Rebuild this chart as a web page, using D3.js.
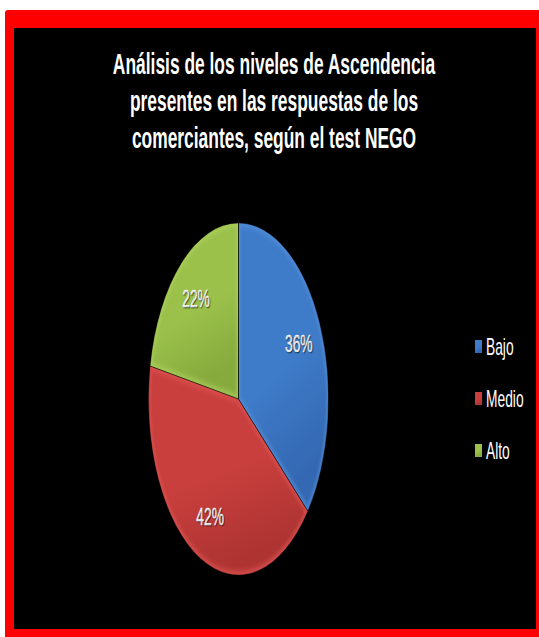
<!DOCTYPE html>
<html>
<head>
<meta charset="utf-8">
<script src="https://cdn.jsdelivr.net/npm/d3@7/dist/d3.min.js"></script>
<style>
  html, body { margin: 0; padding: 0; background: #ffffff; }
  svg { display: block; }
</style>
</head>
<body>
<svg id="chart" width="539" height="637"></svg>
<script>
// Response levels and their shares (percent)
const categories = ["Bajo", "Medio", "Alto"];
const percents = [36, 42, 22];
const titleLines = [
  "Análisis de los niveles de Ascendencia",
  "presentes en las respuestas de los",
  "comerciantes, según el test NEGO"
];
const sliceColors = [
  { light: "#5590da", base: "#3e7bc8", dark: "#3468b2" },
  { light: "#e05654", base: "#c83f3d", dark: "#ae3432" },
  { light: "#acd05e", base: "#9bc14b", dark: "#86aa3c" }
];

const svg = d3.select("#chart");
const W = 539, H = 637;

// frame: red border around a black plot area
svg.append("rect").attr("x", 5).attr("y", 10).attr("width", W).attr("height", H)
  .attr("rx", 3).attr("fill", "#ff0000");
svg.append("rect").attr("x", 14).attr("y", 28).attr("width", 522).attr("height", 601)
  .attr("fill", "#000000");

const defs = svg.append("defs");
const textSquash = 0.6;

// title
const title = svg.append("g").attr("font-family", "'Liberation Sans', Arial, sans-serif")
  .attr("font-weight", "bold").attr("font-size", 29).attr("fill", "#ffffff");
titleLines.forEach((line, i) => {
  title.append("text")
    .attr("transform", `translate(274, ${74 + i * 37}) scale(${textSquash},1)`)
    .attr("text-anchor", "middle")
    .text(line);
});

// pie: drawn as a circle then squeezed horizontally into an ellipse
const cx = 238.5, cy = 399, R = 176, rx = 90;
const pieSx = rx / R;
const pie = d3.pie().sort(null).value(d => d);
const arcs = pie(percents);
const arc = d3.arc().innerRadius(0).outerRadius(R);
const labelArc = d3.arc().innerRadius(R * 0.74).outerRadius(R * 0.74);

const soft = defs.append("filter").attr("id", "soft")
  .attr("x", "-20%").attr("y", "-20%").attr("width", "140%").attr("height", "140%");
soft.append("feGaussianBlur").attr("stdDeviation", 2.5);

arcs.forEach((a, i) => {
  const c = sliceColors[i];
  const g = defs.append("linearGradient").attr("id", "grad" + i)
    .attr("x1", 0).attr("y1", 0).attr("x2", 0.3).attr("y2", 1);
  g.append("stop").attr("offset", "0%").attr("stop-color", c.base);
  g.append("stop").attr("offset", "60%").attr("stop-color", c.base);
  g.append("stop").attr("offset", "100%").attr("stop-color", c.dark);
  defs.append("clipPath").attr("id", "clip" + i)
    .append("path").attr("d", arc(a));
});

const pg = svg.append("g").attr("transform", `translate(${cx},${cy}) scale(${pieSx},1)`);
const slices = pg.selectAll("g.slice").data(arcs).enter().append("g")
  .attr("class", "slice")
  .attr("clip-path", (d, i) => `url(#clip${i})`);
slices.append("path")
  .attr("d", arc)
  .attr("fill", (d, i) => `url(#grad${i})`);
// bevel highlight along each slice edge
slices.append("path")
  .attr("d", arc)
  .attr("fill", "none")
  .attr("stroke", (d, i) => sliceColors[i].light)
  .attr("stroke-width", 8)
  .attr("stroke-opacity", 0.7)
  .attr("filter", "url(#soft)");
pg.selectAll("path.edge").data(arcs).enter().append("path")
  .attr("class", "edge")
  .attr("d", arc)
  .attr("fill", "none")
  .attr("stroke", "rgba(0,0,0,0.35)")
  .attr("stroke-width", 1)
  .attr("vector-effect", "non-scaling-stroke");

// percentage labels
svg.append("g").attr("font-family", "'Liberation Sans', Arial, sans-serif")
  .attr("font-size", 23).attr("fill", "#ffffff")
  .selectAll("text").data(arcs).enter().append("text")
  .attr("transform", d => {
    const p = labelArc.centroid(d);
    return `translate(${cx + p[0] * pieSx},${cy + p[1]}) scale(${textSquash},1)`;
  })
  .attr("text-anchor", "middle")
  .attr("dy", "0.36em")
  .attr("stroke", "#ffffff").attr("stroke-width", 0.4)
  .style("text-shadow", "1px 1px 1px rgba(0,0,0,0.6)")
  .text(d => d.data + "%");

// legend
const legendY = d3.scalePoint().domain(categories).range([347, 451]);
const lg = svg.append("g").attr("font-family", "'Liberation Sans', Arial, sans-serif")
  .attr("font-size", 23).attr("fill", "#ffffff");
categories.forEach((cat, i) => {
  const y = legendY(cat);
  lg.append("rect").attr("x", 475).attr("y", y - 7).attr("width", 7).attr("height", 13)
    .attr("fill", `url(#grad${i})`);
  lg.append("text")
    .attr("transform", `translate(486,${y}) scale(${textSquash},1)`)
    .attr("dy", "0.36em")
    .text(cat);
});
</script>
</body>
</html>
